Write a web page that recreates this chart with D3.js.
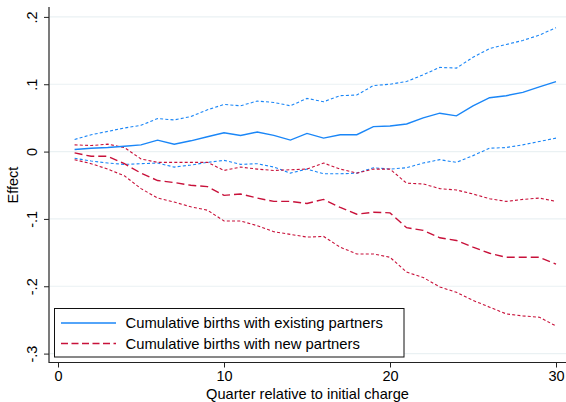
<!DOCTYPE html>
<html><head><meta charset="utf-8">
<script src="https://cdn.jsdelivr.net/npm/d3@7"></script>
<style>
body{margin:0;background:#fff}
svg{display:block}
text{font-family:"Liberation Sans",Arial,Helvetica,sans-serif;fill:#000}
</style>
</head><body>
<svg id="chart" width="566" height="402"></svg>
<script>
const quarters = [1,2,3,4,5,6,7,8,9,10,11,12,13,14,15,16,17,18,19,20,21,22,23,24,25,26,27,28,29,30];

const existingEst = [0.003,0.005,0.006,0.008,0.010,0.017,0.011,0.016,0.022,0.028,0.024,0.029,0.024,0.017,0.027,0.020,0.025,0.025,0.037,0.038,0.041,0.050,0.057,0.053,0.068,0.080,0.083,0.088,0.096,0.104];
const existingHi  = [0.018,0.025,0.030,0.035,0.039,0.049,0.047,0.052,0.062,0.070,0.068,0.075,0.073,0.068,0.079,0.074,0.083,0.084,0.098,0.100,0.104,0.114,0.125,0.124,0.140,0.153,0.159,0.165,0.173,0.184];
const existingLo  = [-0.010,-0.014,-0.017,-0.019,-0.018,-0.017,-0.023,-0.020,-0.016,-0.013,-0.019,-0.018,-0.023,-0.032,-0.026,-0.033,-0.033,-0.032,-0.024,-0.026,-0.024,-0.017,-0.012,-0.016,-0.006,0.005,0.006,0.010,0.015,0.020];

const newEst = [-0.002,-0.007,-0.007,-0.018,-0.032,-0.043,-0.046,-0.050,-0.052,-0.065,-0.063,-0.069,-0.074,-0.074,-0.077,-0.071,-0.083,-0.093,-0.090,-0.091,-0.113,-0.117,-0.128,-0.132,-0.142,-0.151,-0.157,-0.157,-0.157,-0.167];
const newHi  = [0.010,0.009,0.011,0.006,-0.011,-0.016,-0.016,-0.016,-0.016,-0.028,-0.023,-0.026,-0.028,-0.027,-0.026,-0.017,-0.026,-0.032,-0.026,-0.026,-0.047,-0.048,-0.055,-0.057,-0.063,-0.070,-0.074,-0.071,-0.069,-0.074];
const newLo  = [-0.012,-0.018,-0.026,-0.036,-0.055,-0.069,-0.075,-0.082,-0.087,-0.103,-0.103,-0.110,-0.119,-0.123,-0.127,-0.126,-0.142,-0.152,-0.152,-0.157,-0.179,-0.187,-0.201,-0.209,-0.221,-0.231,-0.241,-0.244,-0.246,-0.259];

const xTicks = [0,10,20,30];
const xTickLabels = ["0","10","20","30"];
const yTicks = [0.2,0.1,0,-0.1,-0.2,-0.3];
const yTickLabels = [".2",".1","0","-.1","-.2","-.3"];
const legendLabels = ["Cumulative births with existing partners","Cumulative births with new partners"];
const xTitle = "Quarter relative to initial charge";
const yTitle = "Effect";

const blue = "#1a86f7";
const red = "#c8113a";

const svg = d3.select("#chart");
const plot = {left:49, right:566, top:7, bottom:362.5};

const x = d3.scaleLinear().domain([0,30]).range([58,556]);
const y = d3.scaleLinear().domain([-0.3,0.2]).range([353.6,16.9]);

// gridlines
svg.append("g").selectAll("line").data(yTicks).join("line")
  .attr("x1",plot.left+1).attr("x2",plot.right)
  .attr("y1",d=>y(d)).attr("y2",d=>y(d))
  .attr("stroke","#eaf1f3").attr("stroke-width",1.2);

// y axis
const yAxis = d3.axisLeft(y).tickValues(yTicks).tickSize(5)
  .tickFormat((d,i)=>yTickLabels[i]);
const gy = svg.append("g").attr("transform",`translate(${plot.left},0)`).call(yAxis);
gy.select(".domain").remove();
gy.selectAll(".tick line").attr("stroke","#222").attr("stroke-width",1);
gy.selectAll(".tick text")
  .attr("x",null).attr("dy",null)
  .attr("transform","translate(-12,0) rotate(-90)")
  .attr("text-anchor","middle")
  .style("font-size","14.5px")
  .style("font-family",'"Liberation Sans",Arial,sans-serif')
  .attr("fill","#000");

// x axis
const xAxis = d3.axisBottom(x).tickValues(xTicks).tickSize(5)
  .tickFormat((d,i)=>xTickLabels[i]);
const gx = svg.append("g").attr("transform",`translate(0,${plot.bottom})`).call(xAxis);
gx.select(".domain").remove();
gx.selectAll(".tick line").attr("stroke","#222").attr("stroke-width",1);
gx.selectAll(".tick text")
  .attr("y",8).attr("dy","0.71em")
  .style("font-size","14.5px")
  .style("font-family",'"Liberation Sans",Arial,sans-serif')
  .attr("fill","#000");

// axis lines
svg.append("line").attr("x1",plot.left).attr("x2",plot.left)
  .attr("y1",plot.top).attr("y2",plot.bottom+0.5)
  .attr("stroke","#222").attr("stroke-width",1.2);
svg.append("line").attr("x1",plot.left).attr("x2",plot.right)
  .attr("y1",plot.bottom).attr("y2",plot.bottom)
  .attr("stroke","#222").attr("stroke-width",1.2);

// titles
svg.append("text").attr("x",307.5).attr("y",398.5)
  .attr("text-anchor","middle").style("font-size","14.6px").text(xTitle);
svg.append("text").attr("transform","translate(18,185) rotate(-90)")
  .attr("text-anchor","middle").style("font-size","14.5px").text(yTitle);

// series
const line = d3.line().x((d,i)=>x(quarters[i])).y(d=>y(d));
const series = [
  {data:existingHi, color:blue, width:1.1, dash:"3,2.2"},
  {data:existingLo, color:blue, width:1.1, dash:"3,2.2"},
  {data:newHi, color:red, width:1.1, dash:"3,2.2"},
  {data:newLo, color:red, width:1.1, dash:"3,2.2"},
  {data:existingEst, color:blue, width:1.4, dash:null},
  {data:newEst, color:red, width:1.4, dash:"8,4"}
];
svg.append("g").selectAll("path").data(series).join("path")
  .attr("d",d=>line(d.data))
  .attr("fill","none")
  .attr("stroke",d=>d.color)
  .attr("stroke-width",d=>d.width)
  .attr("stroke-dasharray",d=>d.dash);

// legend
const lg = svg.append("g");
lg.append("rect").attr("x",54.5).attr("y",308.5).attr("width",349.5).attr("height",48.5)
  .attr("fill","#fff").attr("stroke","#111").attr("stroke-width",1);
const legendItems = [
  {label:legendLabels[0], color:blue, dash:null},
  {label:legendLabels[1], color:red, dash:"7,3.5"}
];
legendItems.forEach((it,i)=>{
  const cy = 323 + i*20.5;
  lg.append("line").attr("x1",61).attr("x2",116).attr("y1",cy).attr("y2",cy)
    .attr("stroke",it.color).attr("stroke-width",1.4)
    .attr("stroke-dasharray",it.dash);
  lg.append("text").attr("x",125.5).attr("y",cy+5)
    .style("font-size","14.8px").text(it.label);
});
</script>
</body></html>
